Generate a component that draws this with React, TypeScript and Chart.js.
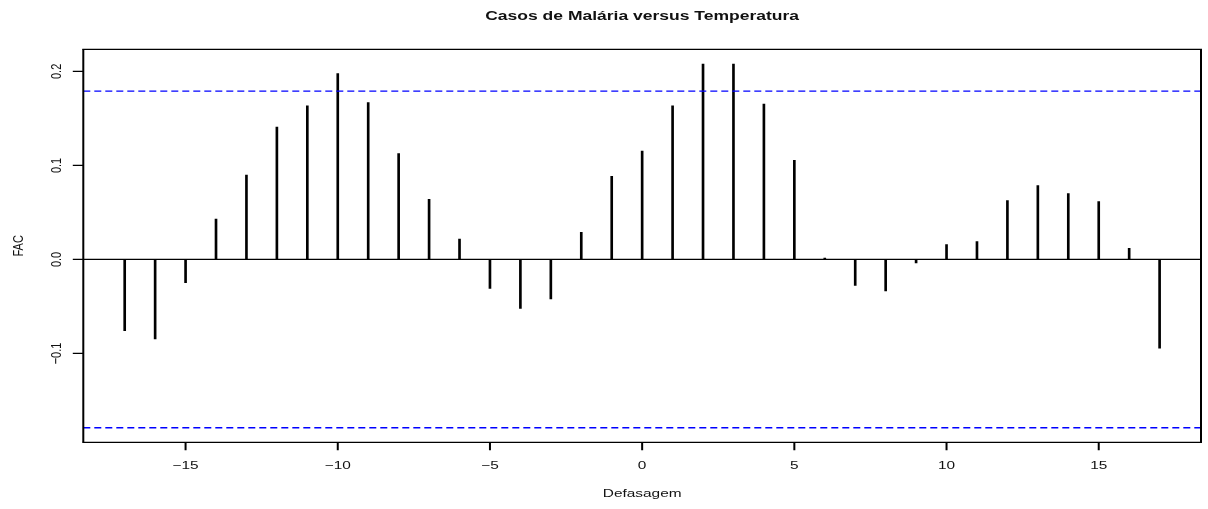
import React, { useEffect, useRef } from "react";
import { Chart, registerables } from "chart.js";

Chart.register(...registerables);

// Defasagem (lag) and FAC (cross-correlation) values
const lags = [-17, -16, -15, -14, -13, -12, -11, -10, -9, -8, -7, -6, -5, -4, -3, -2, -1, 0, 1, 2, 3, 4, 5, 6, 7, 8, 9, 10, 11, 12, 13, 14, 15, 16, 17];
const fac = [
  -0.0758, -0.0846, -0.0248, 0.0428, 0.0898, 0.1408, 0.1635, 0.1978, 0.1667, 0.1125,
  0.064, 0.0216, -0.0308, -0.052, -0.0421, 0.0287, 0.0884, 0.1153, 0.1635, 0.2077,
  0.2077, 0.1652, 0.1054, 0.0014, -0.0276, -0.0336, -0.0036, 0.0159, 0.0191, 0.0626,
  0.0786, 0.07, 0.0616, 0.0117, -0.0945,
];
const limite = 0.179;

const xTicks = [-15, -10, -5, 0, 5, 10, 15];
const xTickLabels = ["\u221215", "\u221210", "\u22125", "0", "5", "10", "15"];
const yTicks = [-0.1, 0, 0.1, 0.2];
const yTickLabels = ["\u22120.1", "0.0", "0.1", "0.2"];

const titulo = "Casos de Malária versus Temperatura";
const xTitulo = "Defasagem";
const yTitulo = "FAC";

const X_MIN = -18.36;
const X_MAX = 18.36;
const Y_MIN = -0.1945;
const Y_MAX = 0.2235;
const SX = 1.4; // horizontal stretch of the original picture
const FONT = "'Liberation Sans', Arial, Helvetica, sans-serif";

function hText(ctx: CanvasRenderingContext2D, text: string, x: number, y: number, font: string) {
  ctx.save();
  ctx.translate(x, y);
  ctx.scale(SX, 1);
  ctx.font = font;
  ctx.textAlign = "center";
  ctx.textBaseline = "alphabetic";
  ctx.fillText(text, 0, 0);
  ctx.restore();
}

function vText(ctx: CanvasRenderingContext2D, text: string, xBase: number, yCenter: number, font: string) {
  ctx.save();
  ctx.translate(xBase, yCenter);
  ctx.scale(SX, 1);
  ctx.rotate(-Math.PI / 2);
  ctx.font = font;
  ctx.textAlign = "center";
  ctx.textBaseline = "alphabetic";
  ctx.fillText(text, 0, 0);
  ctx.restore();
}

const decor = {
  id: "rdecor",
  afterDraw(chart: any) {
    const ctx: CanvasRenderingContext2D = chart.ctx;
    const { left, right, top, bottom } = chart.chartArea;
    const xs = chart.scales.x;
    const ys = chart.scales.y;
    ctx.save();
    ctx.strokeStyle = "#000";
    ctx.fillStyle = "#111";
    // box
    ctx.lineWidth = 1.3;
    ctx.beginPath();
    ctx.moveTo(left - 1, top);
    ctx.lineTo(right + 1, top);
    ctx.moveTo(left - 1, bottom);
    ctx.lineTo(right + 1, bottom);
    ctx.stroke();
    ctx.lineWidth = 2;
    ctx.beginPath();
    ctx.moveTo(left, top);
    ctx.lineTo(left, bottom);
    ctx.moveTo(right, top);
    ctx.lineTo(right, bottom);
    ctx.stroke();
    // x ticks
    ctx.lineWidth = 2;
    ctx.beginPath();
    xTicks.forEach((v) => {
      const px = xs.getPixelForValue(v);
      ctx.moveTo(px, bottom);
      ctx.lineTo(px, bottom + 8);
    });
    ctx.stroke();
    xTicks.forEach((v, i) => {
      hText(ctx, xTickLabels[i], xs.getPixelForValue(v), 469, `11px ${FONT}`);
    });
    // y ticks
    ctx.lineWidth = 1.3;
    ctx.beginPath();
    yTicks.forEach((v) => {
      const py = ys.getPixelForValue(v);
      ctx.moveTo(left, py);
      ctx.lineTo(left - 10.5, py);
    });
    ctx.stroke();
    yTicks.forEach((v, i) => {
      vText(ctx, yTickLabels[i], 61, ys.getPixelForValue(v), `11px ${FONT}`);
    });
    // titles
    const cx = (left + right) / 2;
    hText(ctx, titulo, cx, 20, `bold 12.5px ${FONT}`);
    hText(ctx, xTitulo, cx, 497, `11px ${FONT}`);
    vText(ctx, yTitulo, 22.7, (top + bottom) / 2, `11px ${FONT}`);
    ctx.restore();
  },
};

export default function App() {
  const ref = useRef<HTMLCanvasElement | null>(null);
  useEffect(() => {
    if (!ref.current) return;
    const pts = lags.map((l, i) => ({ x: l, y: fac[i] }));
    const chart = new Chart(ref.current, {
      type: "bar",
      data: {
        datasets: [
          {
            type: "line",
            data: [{ x: X_MIN, y: limite }, { x: X_MAX, y: limite }],
            borderColor: "#0000ff",
            borderWidth: 1.3,
            borderDash: [7, 4],
            pointRadius: 0,
          } as any,
          {
            type: "line",
            data: [{ x: X_MIN, y: -limite }, { x: X_MAX, y: -limite }],
            borderColor: "#0000ff",
            borderWidth: 1.3,
            borderDash: [7, 4],
            pointRadius: 0,
          } as any,
          {
            type: "line",
            data: [{ x: X_MIN, y: 0 }, { x: X_MAX, y: 0 }],
            borderColor: "#000",
            borderWidth: 1.3,
            pointRadius: 0,
          } as any,
          {
            type: "bar",
            data: pts,
            backgroundColor: "#000",
            borderWidth: 0,
            barThickness: 2,
          } as any,
        ],
      },
      options: {
        responsive: false,
        animation: false,
        events: [],
        layout: { padding: { left: 83.3, right: 7, top: 49.3, bottom: 66.7 } },
        plugins: { legend: { display: false }, tooltip: { enabled: false }, title: { display: false } },
        scales: {
          x: { type: "linear", min: X_MIN, max: X_MAX, display: false, offset: false, grid: { offset: false } },
          y: { type: "linear", min: Y_MIN, max: Y_MAX, display: false },
        },
      },
      plugins: [decor],
    });
    return () => chart.destroy();
  }, []);
  return (
    <div style={{ position: "absolute", left: 0, top: 0, width: 1208, height: 509, background: "#fff" }}>
      <canvas ref={ref} width={1208} height={509} style={{ display: "block" }} />
    </div>
  );
}
